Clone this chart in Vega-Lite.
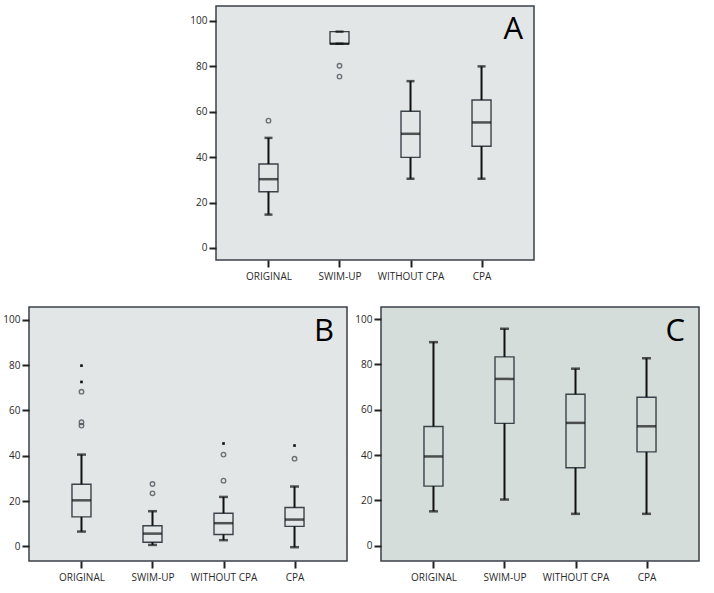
{
  "$schema": "https://vega.github.io/schema/vega-lite/v6.json",
  "padding": {"left": 2, "top": 5, "right": 0, "bottom": 0},
  "background": "white",
  "datasets": {
    "boxes": [
      {"panel": "A", "group": "ORIGINAL", "low": 14.7, "q1": 24.8, "median": 30.3, "q3": 37.0, "high": 48.5},
      {"panel": "A", "group": "SWIM-UP", "low": 90, "q1": 90, "median": 90, "q3": 95.3, "high": 95.3},
      {"panel": "A", "group": "WITHOUT CPA", "low": 30.5, "q1": 39.9, "median": 50.3, "q3": 60.2, "high": 73.5},
      {"panel": "A", "group": "CPA", "low": 30.5, "q1": 44.8, "median": 55.3, "q3": 65.2, "high": 80.0},
      {"panel": "B", "group": "ORIGINAL", "low": 6.5, "q1": 13.0, "median": 20.3, "q3": 27.4, "high": 40.5},
      {"panel": "B", "group": "SWIM-UP", "low": 0.6, "q1": 1.8, "median": 5.6, "q3": 9.1, "high": 15.5},
      {"panel": "B", "group": "WITHOUT CPA", "low": 2.7, "q1": 5.2, "median": 10.2, "q3": 14.6, "high": 21.8},
      {"panel": "B", "group": "CPA", "low": -0.4, "q1": 8.8, "median": 11.8, "q3": 17.1, "high": 26.4},
      {"panel": "C", "group": "ORIGINAL", "low": 15.2, "q1": 26.3, "median": 39.4, "q3": 52.6, "high": 89.8},
      {"panel": "C", "group": "SWIM-UP", "low": 20.4, "q1": 54.0, "median": 73.6, "q3": 83.3, "high": 95.7},
      {"panel": "C", "group": "WITHOUT CPA", "low": 14.1, "q1": 34.4, "median": 54.2, "q3": 66.8, "high": 78.1},
      {"panel": "C", "group": "CPA", "low": 14.1, "q1": 41.4, "median": 52.7, "q3": 65.5, "high": 82.7}
    ],
    "outliers": [
      {"panel": "A", "group": "ORIGINAL", "value": 56.1, "kind": "outlier"},
      {"panel": "A", "group": "SWIM-UP", "value": 80.3, "kind": "outlier"},
      {"panel": "A", "group": "SWIM-UP", "value": 75.5, "kind": "outlier"},
      {"panel": "B", "group": "ORIGINAL", "value": 79.8, "kind": "extreme"},
      {"panel": "B", "group": "ORIGINAL", "value": 72.6, "kind": "extreme"},
      {"panel": "B", "group": "ORIGINAL", "value": 68.3, "kind": "outlier"},
      {"panel": "B", "group": "ORIGINAL", "value": 54.8, "kind": "outlier"},
      {"panel": "B", "group": "ORIGINAL", "value": 53.3, "kind": "outlier"},
      {"panel": "B", "group": "SWIM-UP", "value": 27.5, "kind": "outlier"},
      {"panel": "B", "group": "SWIM-UP", "value": 23.4, "kind": "outlier"},
      {"panel": "B", "group": "WITHOUT CPA", "value": 45.4, "kind": "extreme"},
      {"panel": "B", "group": "WITHOUT CPA", "value": 40.5, "kind": "outlier"},
      {"panel": "B", "group": "WITHOUT CPA", "value": 29.0, "kind": "outlier"},
      {"panel": "B", "group": "CPA", "value": 44.5, "kind": "extreme"},
      {"panel": "B", "group": "CPA", "value": 38.7, "kind": "outlier"}
    ]
  },
  "spacing": 24,
  "vconcat": [
    {
      "spacing": 5,
      "hconcat": [
        {"data": {"values": []}, "mark": "point", "width": 155, "height": 254, "view": {"stroke": null, "fill": null}},
        {
          "width": 318, "height": 254,
          "view": {"fill": "#e3e6e7", "stroke": "#3b4048", "strokeWidth": 1.5},
          "title": {"text": "A", "anchor": "end", "frame": "group", "offset": -40, "dx": -11},
          "layer": [
            {"data": {"name": "boxes"}, "transform": [{"filter": "datum.panel === 'A'"}],
             "mark": {"type": "bar", "size": 19, "filled": false, "color": "#3c424a", "strokeWidth": 1.4},
             "encoding": {
               "x": {"field": "group", "type": "nominal", "scale": {"type": "point", "domain": ["ORIGINAL", "SWIM-UP", "WITHOUT CPA", "CPA"], "padding": 0.739}},
               "y": {"field": "q1", "type": "quantitative", "scale": {"domain": [-5.3, 106.6], "nice": false, "zero": false}, "axis": {"values": [0, 20, 40, 60, 80, 100]}},
               "y2": {"field": "q3"}}},
            {"data": {"name": "boxes"}, "transform": [{"filter": "datum.panel === 'A'"}],
             "mark": {"type": "rule", "color": "#111", "strokeWidth": 2},
             "encoding": {"x": {"field": "group", "type": "nominal"}, "y": {"field": "low", "type": "quantitative"}, "y2": {"field": "q1"}}},
            {"data": {"name": "boxes"}, "transform": [{"filter": "datum.panel === 'A'"}],
             "mark": {"type": "rule", "color": "#111", "strokeWidth": 2},
             "encoding": {"x": {"field": "group", "type": "nominal"}, "y": {"field": "q3", "type": "quantitative"}, "y2": {"field": "high"}}},
            {"data": {"name": "boxes"}, "transform": [{"filter": "datum.panel === 'A'"}],
             "mark": {"type": "tick", "color": "#111", "size": 8, "thickness": 2.5},
             "encoding": {"x": {"field": "group", "type": "nominal"}, "y": {"field": "low", "type": "quantitative"}}},
            {"data": {"name": "boxes"}, "transform": [{"filter": "datum.panel === 'A'"}],
             "mark": {"type": "tick", "color": "#111", "size": 8, "thickness": 2.5},
             "encoding": {"x": {"field": "group", "type": "nominal"}, "y": {"field": "high", "type": "quantitative"}}},
            {"data": {"name": "boxes"}, "transform": [{"filter": "datum.panel === 'A'"}],
             "mark": {"type": "tick", "color": "#111", "size": 19, "thickness": 2.5},
             "encoding": {"x": {"field": "group", "type": "nominal"}, "y": {"field": "median", "type": "quantitative"}}},
            {"data": {"name": "outliers"}, "transform": [{"filter": "datum.panel === 'A' && datum.kind === 'outlier'"}],
             "mark": {"type": "point", "shape": "circle", "filled": false, "color": "#3c424a", "size": 20, "strokeWidth": 1.4},
             "encoding": {"x": {"field": "group", "type": "nominal"}, "y": {"field": "value", "type": "quantitative"}}}
          ]
        }
      ]
    },
    {
      "spacing": 6,
      "hconcat": [
        {
          "width": 318, "height": 254,
          "view": {"fill": "#e3e6e7", "stroke": "#3b4048", "strokeWidth": 1.5},
          "title": {"text": "B", "anchor": "end", "frame": "group", "offset": -41, "dx": -13},
          "layer": [
            {"data": {"name": "boxes"}, "transform": [{"filter": "datum.panel === 'B'"}],
             "mark": {"type": "bar", "size": 19, "filled": false, "color": "#3c424a", "strokeWidth": 1.4},
             "encoding": {
               "x": {"field": "group", "type": "nominal", "scale": {"type": "point", "domain": ["ORIGINAL", "SWIM-UP", "WITHOUT CPA", "CPA"], "padding": 0.739}},
               "y": {"field": "q1", "type": "quantitative", "scale": {"domain": [-6.5, 105.7], "nice": false, "zero": false}, "axis": {"values": [0, 20, 40, 60, 80, 100]}},
               "y2": {"field": "q3"}}},
            {"data": {"name": "boxes"}, "transform": [{"filter": "datum.panel === 'B'"}],
             "mark": {"type": "rule", "color": "#111", "strokeWidth": 2},
             "encoding": {"x": {"field": "group", "type": "nominal"}, "y": {"field": "low", "type": "quantitative"}, "y2": {"field": "q1"}}},
            {"data": {"name": "boxes"}, "transform": [{"filter": "datum.panel === 'B'"}],
             "mark": {"type": "rule", "color": "#111", "strokeWidth": 2},
             "encoding": {"x": {"field": "group", "type": "nominal"}, "y": {"field": "q3", "type": "quantitative"}, "y2": {"field": "high"}}},
            {"data": {"name": "boxes"}, "transform": [{"filter": "datum.panel === 'B'"}],
             "mark": {"type": "tick", "color": "#111", "size": 9, "thickness": 2.5},
             "encoding": {"x": {"field": "group", "type": "nominal"}, "y": {"field": "low", "type": "quantitative"}}},
            {"data": {"name": "boxes"}, "transform": [{"filter": "datum.panel === 'B'"}],
             "mark": {"type": "tick", "color": "#111", "size": 9, "thickness": 2.5},
             "encoding": {"x": {"field": "group", "type": "nominal"}, "y": {"field": "high", "type": "quantitative"}}},
            {"data": {"name": "boxes"}, "transform": [{"filter": "datum.panel === 'B'"}],
             "mark": {"type": "tick", "color": "#111", "size": 19, "thickness": 2.5},
             "encoding": {"x": {"field": "group", "type": "nominal"}, "y": {"field": "median", "type": "quantitative"}}},
            {"data": {"name": "outliers"}, "transform": [{"filter": "datum.panel === 'B' && datum.kind === 'outlier'"}],
             "mark": {"type": "point", "shape": "circle", "filled": false, "color": "#3c424a", "size": 20, "strokeWidth": 1.4},
             "encoding": {"x": {"field": "group", "type": "nominal"}, "y": {"field": "value", "type": "quantitative"}}},
            {"data": {"name": "outliers"}, "transform": [{"filter": "datum.panel === 'B' && datum.kind === 'extreme'"}],
             "mark": {"type": "point", "shape": "square", "filled": true, "color": "#111", "size": 7, "opacity": 1},
             "encoding": {"x": {"field": "group", "type": "nominal"}, "y": {"field": "value", "type": "quantitative"}}}
          ]
        },
        {
          "width": 318, "height": 254,
          "view": {"fill": "#d4ddd9", "stroke": "#3b4048", "strokeWidth": 1.5},
          "title": {"text": "C", "anchor": "end", "frame": "group", "offset": -41, "dx": -14},
          "layer": [
            {"data": {"name": "boxes"}, "transform": [{"filter": "datum.panel === 'C'"}],
             "mark": {"type": "bar", "size": 19, "filled": false, "color": "#3c424a", "strokeWidth": 1.4},
             "encoding": {
               "x": {"field": "group", "type": "nominal", "scale": {"type": "point", "domain": ["ORIGINAL", "SWIM-UP", "WITHOUT CPA", "CPA"], "padding": 0.739}},
               "y": {"field": "q1", "type": "quantitative", "scale": {"domain": [-6.7, 105.3], "nice": false, "zero": false}, "axis": {"values": [0, 20, 40, 60, 80, 100]}},
               "y2": {"field": "q3"}}},
            {"data": {"name": "boxes"}, "transform": [{"filter": "datum.panel === 'C'"}],
             "mark": {"type": "rule", "color": "#111", "strokeWidth": 2},
             "encoding": {"x": {"field": "group", "type": "nominal"}, "y": {"field": "low", "type": "quantitative"}, "y2": {"field": "q1"}}},
            {"data": {"name": "boxes"}, "transform": [{"filter": "datum.panel === 'C'"}],
             "mark": {"type": "rule", "color": "#111", "strokeWidth": 2},
             "encoding": {"x": {"field": "group", "type": "nominal"}, "y": {"field": "q3", "type": "quantitative"}, "y2": {"field": "high"}}},
            {"data": {"name": "boxes"}, "transform": [{"filter": "datum.panel === 'C'"}],
             "mark": {"type": "tick", "color": "#111", "size": 9, "thickness": 2.5},
             "encoding": {"x": {"field": "group", "type": "nominal"}, "y": {"field": "low", "type": "quantitative"}}},
            {"data": {"name": "boxes"}, "transform": [{"filter": "datum.panel === 'C'"}],
             "mark": {"type": "tick", "color": "#111", "size": 9, "thickness": 2.5},
             "encoding": {"x": {"field": "group", "type": "nominal"}, "y": {"field": "high", "type": "quantitative"}}},
            {"data": {"name": "boxes"}, "transform": [{"filter": "datum.panel === 'C'"}],
             "mark": {"type": "tick", "color": "#111", "size": 19, "thickness": 2.5},
             "encoding": {"x": {"field": "group", "type": "nominal"}, "y": {"field": "median", "type": "quantitative"}}}
          ]
        }
      ]
    }
  ],
  "config": {
    "font": "Open Sans",
    "axis": {"labelFont": "Open Sans", "labelFontSize": 10, "labelColor": "#2a2a2a", "tickColor": "#222", "tickWidth": 2, "tickSize": 7, "domain": false, "grid": false, "title": null},
    "axisX": {"labelAngle": 0, "labelPadding": 4},
    "axisY": {"labelPadding": 2},
    "title": {"font": "Open Sans", "fontSize": 31, "fontWeight": "normal", "color": "#000"}
  }
}
